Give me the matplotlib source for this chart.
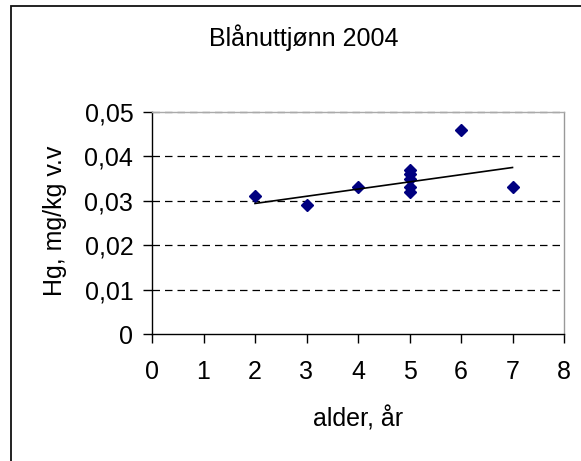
import numpy as np
import matplotlib
matplotlib.use('Agg')
import matplotlib.pyplot as plt
from matplotlib.patches import Rectangle

plt.rcParams['font.family'] = ['Liberation Sans', 'DejaVu Sans']

# fish age (years) and Hg concentration (mg/kg wet weight)
alder = [2, 3, 4, 5, 5, 5, 5, 5, 6, 7]
hg = [0.031, 0.029, 0.033, 0.037, 0.036, 0.035, 0.033, 0.032, 0.046, 0.033]

# trendline end points
trend_x = [2, 7]
trend_y = [0.0294, 0.0375]

xticks = [0, 1, 2, 3, 4, 5, 6, 7, 8]
yticks = [0, 0.01, 0.02, 0.03, 0.04, 0.05]
ytick_labels = ['0', '0,01', '0,02', '0,03', '0,04', '0,05']

fs = 18
fig = plt.figure(figsize=(5.81, 4.61), dpi=100)
ax = fig.add_axes([152/581, 1 - 334/461, 412/581, 222/461])

# outer chart frame (left and top edges visible)
fig.patches.append(Rectangle((10.5/581, -0.1), 1.2, 1 - 6.5/461 + 0.1,
                             transform=fig.transFigure, fill=False,
                             edgecolor='#111111', lw=1.3))

ax.plot(alder, hg, 'D', color='#000080', ms=6.5, mec='#000080', zorder=3)
ax.plot(trend_x, trend_y, color='black', lw=1.2, zorder=4)

ax.set_xlim(0, 8)
ax.set_ylim(0, 0.05)
ax.set_xticks(xticks)
ax.set_xticklabels([str(t) for t in xticks])
ax.set_yticks(yticks)
ax.set_yticklabels(ytick_labels)
ax.tick_params(axis='both', direction='out', length=6.5, width=1, labelsize=fs, color='black')
ax.tick_params(axis='x', pad=12)
ax.tick_params(axis='y', pad=7)

for y in yticks[1:-1]:
    ax.axhline(y, color='black', lw=0.9, ls=(0, (6, 4)), zorder=1)
# top gridline sits on the grey border
ax.axhline(yticks[-1], color='#555555', lw=0.9, ls=(0, (6, 4)), zorder=2, clip_on=False)

ax.spines['top'].set_color('#aaaaaa')
ax.spines['right'].set_color('#999999')
ax.spines['left'].set_color('black')
ax.spines['bottom'].set_color('black')
for s in ax.spines.values():
    s.set_linewidth(1)

fig.text(304/581, 1 - 45.7/461, 'Blånuttjønn 2004', ha='center', va='baseline', fontsize=fs)
fig.text(358/581, 1 - 426/461, 'alder, år', ha='center', va='baseline', fontsize=fs)
fig.text(55/581, 1 - 221/461, 'Hg, mg/kg v.v', rotation=90, ha='center', va='center', fontsize=fs)

fig.savefig('out.png', dpi=100)
